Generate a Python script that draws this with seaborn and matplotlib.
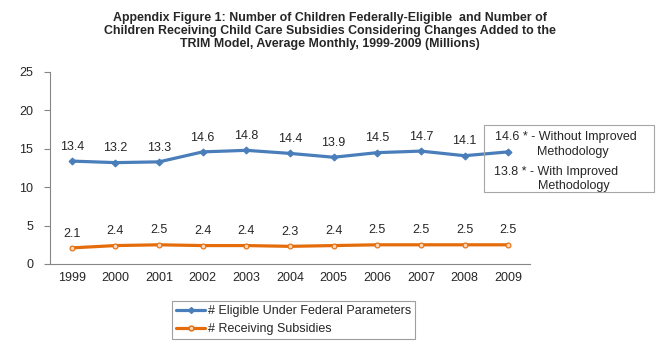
import matplotlib
matplotlib.use("Agg")
import matplotlib.pyplot as plt
from matplotlib.lines import Line2D
import seaborn as sns
import pandas as pd
import numpy as np

years = ["1999", "2000", "2001", "2002", "2003", "2004", "2005", "2006", "2007", "2008", "2009"]
eligible = [13.4, 13.2, 13.3, 14.6, 14.8, 14.4, 13.9, 14.5, 14.7, 14.1, 14.6]
receiving = [2.1, 2.4, 2.5, 2.4, 2.4, 2.3, 2.4, 2.5, 2.5, 2.5, 2.5]
series_names = ["# Eligible Under Federal Parameters", "# Receiving Subsidies"]
y_ticks = [0, 5, 10, 15, 20, 25]
title = ("Appendix Figure 1: Number of Children Federally-Eligible  and Number of\n"
         "Children Receiving Child Care Subsidies Considering Changes Added to the\n"
         "TRIM Model, Average Monthly, 1999-2009 (Millions)")
note_lines = ["14.6 * - Without Improved", "Methodology", "13.8 * - With Improved", "Methodology"]

sns.set_style("white")
plt.rcParams["font.family"] = ["Liberation Sans", "DejaVu Sans"]

blue = "#4A7EBB"
orange = "#E46C0A"
orange_fill = "#FBD5B5"

pos = np.arange(len(years))
df = pd.DataFrame({
    "pos": np.concatenate([pos, pos]),
    "value": eligible + receiving,
    "series": [series_names[0]] * len(years) + [series_names[1]] * len(years),
})

fig = plt.figure(figsize=(6.6, 3.49), dpi=100)
ax = fig.add_axes([50 / 660, 1 - 264 / 349, 480 / 660, 192 / 349])

sns.lineplot(data=df, x="pos", y="value", hue="series", style="series",
             palette=[blue, orange], markers=["D", "o"], dashes=False,
             linewidth=2.3, markersize=3.5, ax=ax, legend=False)
# orange markers have a pale fill
for line, fc in zip(ax.get_lines(), [blue, orange_fill]):
    line.set_markerfacecolor(fc)
    line.set_markeredgecolor(line.get_color())
    line.set_markeredgewidth(0.8)

ax.set_xlim(-0.5, len(years) - 0.5)
ax.set_ylim(0, 25)
ax.set_yticks(y_ticks)
ax.set_xticks(pos)
ax.set_xticklabels(years)
ax.set_xticks(np.arange(-0.5, len(years), 1), minor=True)
ax.tick_params(axis="x", which="major", length=0, pad=6, labelsize=9)
ax.tick_params(axis="x", which="minor", length=4, color="#868686", direction="out")
ax.tick_params(axis="y", length=4, color="#868686", direction="out", labelsize=9, pad=8, left=True)
ax.set_xlabel("")
ax.set_ylabel("")
for s in ["top", "right"]:
    ax.spines[s].set_visible(False)
for s in ["left", "bottom"]:
    ax.spines[s].set_color("#868686")
    ax.spines[s].set_linewidth(0.8)

# value labels above points (last eligible value is stated in the note box)
for i, v in enumerate(eligible[:-1]):
    ax.annotate(f"{v:.1f}", (pos[i], v), xytext=(0, 6), textcoords="offset points",
                ha="center", va="bottom", fontsize=9)
for i, v in enumerate(receiving):
    ax.annotate(f"{v:.1f}", (pos[i], v), xytext=(0, 6), textcoords="offset points",
                ha="center", va="bottom", fontsize=9)

fig.text(0.5, 1 - 12 / 349, title, ha="center", va="top", fontsize=8.9,
         fontweight="bold", linespacing=1.12)

# note box
box = plt.Rectangle((484 / 660, 1 - 192 / 349), 170 / 660, 67 / 349,
                    transform=fig.transFigure, fill=False, edgecolor="#A6A6A6", linewidth=0.8)
fig.add_artist(box)
for txt, xp, yp in zip(note_lines, [495, 537, 494, 538], [137, 152, 172, 186]):
    fig.text(xp / 660, 1 - yp / 349, txt, ha="left", va="center", fontsize=9)

# legend
handles = [
    Line2D([], [], color=blue, lw=2.3, marker="D", markersize=3, markerfacecolor=blue),
    Line2D([], [], color=orange, lw=2.3, marker="o", markersize=3.5, markerfacecolor=orange_fill),
]
leg = fig.legend(handles, series_names, loc="upper left",
                 bbox_to_anchor=(172 / 660, 1 - 301 / 349), borderaxespad=0, fontsize=9,
                 frameon=True, fancybox=False, edgecolor="#868686",
                 handlelength=2.3, handletextpad=0.2, borderpad=0.35, labelspacing=0.45)
leg.get_frame().set_linewidth(0.8)

fig.savefig("out.png", dpi=100)
